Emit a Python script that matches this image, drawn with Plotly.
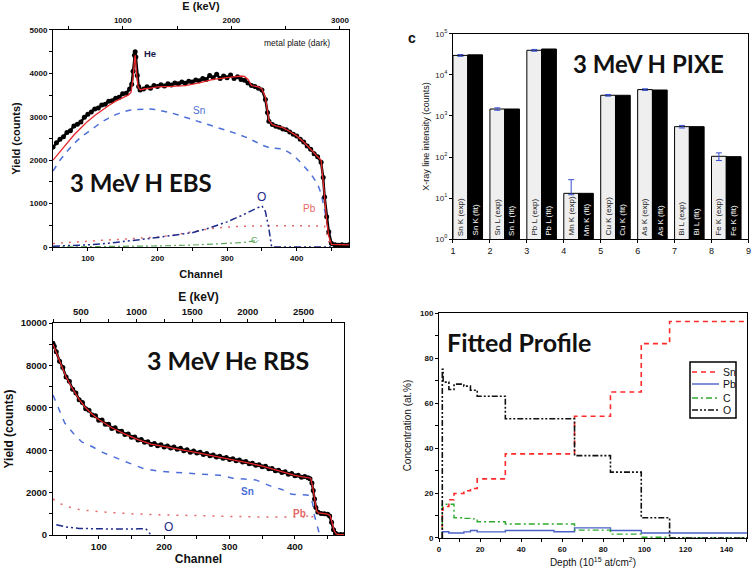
import plotly.graph_objects as go

# ---------------- Panel: 3 MeV H EBS ----------------
ebs_channel = [50, 55, 60, 65, 70, 75, 80, 85, 90, 95, 100, 105, 110, 115, 120, 125, 130, 135, 140, 145,
               150, 155, 160, 163, 165, 167, 168, 169, 171, 173, 175, 180, 185, 190, 195, 200, 205, 210,
               215, 220, 225, 230, 235, 240, 245, 250, 255, 260, 265, 270, 275, 280, 285, 290, 295, 300,
               305, 310, 315, 320, 325, 330, 335, 340, 345, 350, 355, 358, 360, 365, 370, 375, 380, 385,
               390, 395, 400, 405, 410, 415, 420, 425, 430, 435, 438, 440, 443, 446, 450, 455, 460, 465,
               470, 475]
ebs_counts = [2300, 2400, 2480, 2540, 2640, 2680, 2790, 2830, 2880, 2990, 3060, 3110, 3180, 3200, 3270,
              3290, 3360, 3370, 3430, 3450, 3530, 3540, 3640, 3750, 4050, 4420, 4500, 4380, 3950, 3700,
              3620, 3640, 3690, 3660, 3720, 3700, 3740, 3710, 3760, 3730, 3780, 3760, 3800, 3770, 3820,
              3800, 3850, 3830, 3880, 3860, 3950, 3900, 3980, 3880, 3940, 3900, 3960, 3880, 3920, 3860,
              3840, 3780, 3720, 3700, 3660, 3620, 3400, 3100, 2900, 2820, 2780, 2760, 2720, 2700, 2650,
              2600, 2560, 2480, 2420, 2330, 2250, 2150, 2080, 1950, 1600, 1150, 700, 350, 80, 50, 40, 50,
              40, 50]
ebs_fit_channel = [50, 60, 70, 80, 90, 100, 110, 120, 130, 140, 150, 158, 162, 165, 167, 168, 170, 172, 175,
                   180, 190, 200, 220, 240, 260, 280, 300, 310, 320, 325, 330, 335, 340, 345, 350, 355, 360,
                   365, 370, 380, 390, 400, 410, 420, 430, 435, 438, 440, 443, 446, 450, 475]
ebs_fit = [2000, 2200, 2400, 2580, 2740, 2900, 3030, 3150, 3260, 3360, 3440, 3500, 3560, 3900, 4300, 4420,
           4000, 3700, 3620, 3640, 3660, 3690, 3700, 3720, 3780, 3860, 3900, 3920, 3940, 3930, 3860, 3720,
           3700, 3690, 3640, 3450, 2920, 2820, 2790, 2750, 2660, 2560, 2420, 2260, 2080, 2000, 1500, 1100,
           600, 250, 60, 50]
ebs_sn_channel = [50, 60, 70, 80, 90, 100, 110, 120, 130, 140, 150, 160, 170, 180, 190, 200, 210, 220, 230,
                  240, 250, 260, 270, 280, 290, 300, 310, 320, 330, 340, 350, 360, 370, 380, 390, 400, 410,
                  420, 430, 435, 440, 443, 446, 450, 455]
ebs_sn = [1750, 2000, 2200, 2380, 2530, 2650, 2780, 2880, 2970, 3050, 3110, 3150, 3170, 3180, 3180, 3160,
          3130, 3090, 3040, 2990, 2940, 2890, 2840, 2790, 2740, 2690, 2630, 2570, 2510, 2430, 2350, 2290,
          2270, 2260, 2170, 2040, 1870, 1690, 1450, 1230, 850, 600, 300, 50, 0]
ebs_pb_channel = [50, 75, 100, 125, 150, 175, 200, 225, 250, 262, 275, 300, 325, 350, 375, 400, 425, 440, 445, 448]
ebs_pb = [80, 110, 140, 160, 180, 200, 230, 280, 340, 385, 420, 460, 480, 490, 490, 490, 490, 480, 200, 0]
ebs_o_channel = [50, 75, 100, 125, 150, 175, 200, 225, 250, 275, 300, 320, 340, 350, 355, 360, 364, 475]
ebs_o = [20, 30, 50, 80, 120, 170, 220, 270, 330, 440, 580, 720, 870, 950, 820, 420, 0, 0]
ebs_c_channel = [50, 100, 150, 200, 250, 300, 320, 335, 345]
ebs_c = [0, 5, 10, 25, 45, 75, 100, 130, 150]
ebs_energy_range = [357, 3083]   # keV at channels 50 and 475

# ---------------- Panel: 3 MeV H PIXE ----------------
pixe_pos = [1, 2, 3, 4, 5, 6, 7, 8]
pixe_lines = ["Sn K", "Sn L", "Pb L", "Mn K", "Cu K", "As K", "Bi L", "Fe K"]
pixe_exp = [30000, 1480, 40000, 13, 3200, 4400, 550, 104]
pixe_exp_err_plus = [1500, 100, 2000, 15, 150, 200, 40, 22]
pixe_exp_err_minus = [1500, 100, 2000, 1, 150, 200, 40, 22]
pixe_fit = [31000, 1480, 43000, 13, 3200, 4300, 550, 102]

# ---------------- Panel: 3 MeV He RBS ----------------
rbs_channel = [30, 32, 35, 40, 45, 50, 55, 60, 65, 70, 75, 80, 85, 90, 95, 100, 105, 110, 115, 120, 125,
               130, 135, 140, 145, 150, 155, 160, 165, 170, 175, 180, 185, 190, 195, 200, 205, 210, 215,
               220, 225, 230, 235, 240, 245, 250, 255, 260, 265, 270, 275, 280, 285, 290, 295, 300, 305,
               310, 315, 320, 325, 330, 335, 340, 345, 350, 355, 360, 365, 370, 375, 380, 385, 390, 395,
               400, 405, 410, 415, 420, 423, 426, 428, 430, 432, 435, 440, 445, 450, 453, 456, 459, 462,
               465, 470, 475]
rbs_counts = [9050, 8900, 8650, 8200, 7900, 7450, 7250, 6880, 6700, 6380, 6250, 5960, 5880, 5660, 5620,
              5410, 5420, 5220, 5230, 5030, 5060, 4890, 4900, 4740, 4770, 4610, 4620, 4480, 4510, 4380,
              4400, 4270, 4320, 4210, 4260, 4150, 4200, 4100, 4150, 4040, 4090, 3970, 4020, 3910, 3960,
              3870, 3900, 3800, 3840, 3740, 3780, 3680, 3720, 3620, 3660, 3560, 3600, 3500, 3540, 3440,
              3470, 3360, 3390, 3290, 3320, 3220, 3240, 3120, 3140, 3030, 3060, 2950, 2980, 2870, 2900,
              2790, 2820, 2730, 2760, 2700, 2650, 2450, 2100, 1700, 1300, 1080, 1020, 1000, 980, 900,
              600, 250, 80, 30, 20, 20]
rbs_fit_channel = [30, 35, 40, 50, 60, 70, 80, 90, 100, 120, 140, 160, 180, 200, 220, 250, 280, 300, 330,
                   350, 370, 390, 400, 410, 420, 424, 427, 430, 433, 436, 440, 450, 454, 457, 460, 463, 466, 475]
rbs_fit = [9000, 8600, 8200, 7450, 6900, 6400, 6000, 5700, 5450, 5060, 4760, 4500, 4290, 4180, 4080, 3890,
           3700, 3590, 3390, 3250, 3060, 2900, 2810, 2750, 2720, 2680, 2300, 1600, 1150, 1040, 1020, 990,
           900, 550, 200, 60, 20, 20]
rbs_sn_channel = [30, 38, 48, 61, 74, 91, 106, 132, 150, 167, 189, 213, 251, 285, 305, 340, 352, 365, 380,
                  395, 422, 427, 430, 433, 437, 440]
rbs_sn = [6600, 6000, 5280, 4800, 4390, 4150, 3900, 3570, 3350, 3150, 3020, 2960, 2880, 2820, 2680, 2600,
          2450, 2280, 2150, 1920, 1880, 1500, 900, 500, 100, 0]
rbs_pb_channel = [30, 40, 50, 70, 100, 150, 200, 250, 300, 350, 400, 425, 440, 455, 460, 463]
rbs_pb = [1700, 1500, 1350, 1200, 1100, 1000, 950, 930, 880, 850, 830, 850, 950, 950, 300, 0]
rbs_o_channel = [35, 50, 70, 100, 130, 160, 172, 176, 180]
rbs_o = [480, 380, 310, 290, 280, 290, 300, 150, 0]
rbs_energy_range = [249, 2864]   # keV at channels 30 and 475

# ---------------- Panel: Fitted Profile ----------------
depth_edges = [1.6, 2.0, 4.8, 7.3, 12.1, 15.3, 18.6, 32.3, 56, 66, 83.5, 98.5, 112.3, 150]
prof_names = ["Sn", "Pb", "C", "O"]
prof_sn = [12.5, 14, 17, 19.8, 21, 22, 26.3, 37.4, 37.4, 54.1, 64.9, 86.4, 96.2]
prof_pb = [2.8, 2.8, 2.2, 2.2, 2.7, 3.3, 2.7, 3.3, 2.8, 4.5, 3.3, 2.2, 2.2]
prof_c = [15, 15, 15, 9, 8.7, 8.5, 7.2, 6.2, 6.2, 3.5, 1.7, 0.3, 0]
prof_o = [75, 69.3, 66, 68.4, 67.5, 65.7, 63, 53, 53, 36.6, 29.3, 9, 0]

# ---------------- colours / fonts ----------------
BLK = "#000000"
RED = "#e8262b"
SNBLUE = "#4d6fd8"
NAVY = "#1c2a8c"
PBRED = "#e56767"
CGREEN = "#5aa55a"
AX_FONT = "Liberation Sans, Arial, sans-serif"
BIG_FONT = "Lato, Open Sans, sans-serif"
W, H = 756, 571

fig = go.Figure()

# ---- EBS traces (x, y) ----
fig.add_trace(go.Scatter(x=ebs_c_channel, y=ebs_c, mode="lines", xaxis="x", yaxis="y",
                         line=dict(color=CGREEN, width=1.2, dash="6px,3px,2px,3px"), showlegend=False))
fig.add_trace(go.Scatter(x=ebs_pb_channel, y=ebs_pb, mode="lines", xaxis="x", yaxis="y",
                         line=dict(color=PBRED, width=1.5, dash="2px,6px"), showlegend=False))
fig.add_trace(go.Scatter(x=ebs_o_channel, y=ebs_o, mode="lines", xaxis="x", yaxis="y",
                         line=dict(color=NAVY, width=1.5, dash="7px,3px,2px,3px,2px,3px"), showlegend=False))
fig.add_trace(go.Scatter(x=ebs_sn_channel, y=ebs_sn, mode="lines", xaxis="x", yaxis="y",
                         line=dict(color=SNBLUE, width=1.5, dash="6px,6px"), showlegend=False))
fig.add_trace(go.Scatter(x=ebs_channel, y=ebs_counts, mode="lines+markers", xaxis="x", yaxis="y",
                         line=dict(color=BLK, width=2.5), marker=dict(color=BLK, size=5), showlegend=False))
fig.add_trace(go.Scatter(x=ebs_fit_channel, y=ebs_fit, mode="lines", xaxis="x", yaxis="y",
                         line=dict(color=RED, width=1.3), showlegend=False))
fig.add_trace(go.Scatter(x=ebs_energy_range, y=[0, 0], mode="markers", xaxis="x5", yaxis="y",
                         marker=dict(opacity=0, size=1), showlegend=False, hoverinfo="skip"))

# ---- PIXE bars (x2, y2) ----
fig.add_trace(go.Bar(x=pixe_pos, y=pixe_exp, width=0.4, offset=0, xaxis="x2", yaxis="y2",
                     marker=dict(color="#efefef", line=dict(color=BLK, width=1)),
                     error_y=dict(type="data", array=pixe_exp_err_plus, arrayminus=pixe_exp_err_minus,
                                  color="#3a4fd0", thickness=1, width=3),
                     showlegend=False))
fig.add_trace(go.Bar(x=pixe_pos, y=pixe_fit, width=0.4, offset=0.4, xaxis="x2", yaxis="y2",
                     marker=dict(color=BLK, line=dict(color=BLK, width=1)), showlegend=False))

# ---- RBS traces (x3, y3) ----
fig.add_trace(go.Scatter(x=rbs_pb_channel, y=rbs_pb, mode="lines", xaxis="x3", yaxis="y3",
                         line=dict(color=PBRED, width=1.5, dash="2px,7px"), showlegend=False))
fig.add_trace(go.Scatter(x=rbs_o_channel, y=rbs_o, mode="lines", xaxis="x3", yaxis="y3",
                         line=dict(color=NAVY, width=1.5, dash="7px,3px,2px,3px,2px,3px"), showlegend=False))
fig.add_trace(go.Scatter(x=rbs_sn_channel, y=rbs_sn, mode="lines", xaxis="x3", yaxis="y3",
                         line=dict(color=SNBLUE, width=1.5, dash="6px,7px"), showlegend=False))
fig.add_trace(go.Scatter(x=rbs_channel, y=rbs_counts, mode="lines+markers", xaxis="x3", yaxis="y3",
                         line=dict(color=BLK, width=2.5), marker=dict(color=BLK, size=5), showlegend=False))
fig.add_trace(go.Scatter(x=rbs_fit_channel, y=rbs_fit, mode="lines", xaxis="x3", yaxis="y3",
                         line=dict(color=RED, width=1.3), showlegend=False))
fig.add_trace(go.Scatter(x=rbs_energy_range, y=[0, 0], mode="markers", xaxis="x6", yaxis="y3",
                         marker=dict(opacity=0, size=1), showlegend=False, hoverinfo="skip"))

# ---- Profile (x4, y4) ----
def step_xy(vals):
    xs = [depth_edges[0]] + depth_edges
    ys = [0] + vals + [vals[-1]]
    return xs, ys

prof_styles = [("#ff2a2a", "5px,4px", 1.6), ("#4a62c8", "solid", 1.4),
               ("#2eaa2e", "6px,3px,2px,3px", 1.4), ("#111111", "6px,2px,2px,2px,2px,2px", 1.6)]
for name, vals, (col, dash, w) in zip(prof_names, [prof_sn, prof_pb, prof_c, prof_o], prof_styles):
    xs, ys = step_xy(vals)
    fig.add_trace(go.Scatter(x=xs, y=ys, mode="lines", line_shape="hv", name=name, showlegend=False,
                             xaxis="x4", yaxis="y4", line=dict(color=col, dash=dash, width=w)))

# ---------------- layout ----------------
def ax(**kw):
    base = dict(showline=True, linecolor=BLK, linewidth=1, mirror=True, ticks="outside",
                ticklen=3, tickcolor=BLK, showgrid=False, zeroline=False, automargin=False,
                tickfont=dict(family=AX_FONT, size=8, color="#111"))
    base.update(kw)
    return base

tf = lambda s, size=11, bold=True: dict(text=("<b>%s</b>" % s) if bold else s,
                                        font=dict(family=AX_FONT, size=size, color="#111"))

fig.update_layout(
    width=W, height=H, margin=dict(l=0, r=0, t=0, b=0),
    paper_bgcolor="white", plot_bgcolor="white", barmode="overlay", showlegend=False,
    xaxis=ax(domain=[0.0701, 0.4616], anchor="y", range=[50, 475], dtick=100, tick0=0,
             minor=dict(dtick=50, ticks="outside", ticklen=3, tickcolor=BLK),
             title=dict(tf("Channel", 11), standoff=8),
             tickfont=dict(family=AX_FONT, size=8, color="#111"), tickprefix="<b>", ticksuffix="</b>"),
    yaxis=ax(domain=[0.5674, 0.9475], anchor="x", range=[0, 5000], dtick=1000, tickformat="d",
             minor=dict(dtick=500, ticks="outside", ticklen=3, tickcolor=BLK),
             title=dict(tf("Yield (counts)", 11), standoff=6), tickprefix="<b>", ticksuffix="</b>"),
    xaxis5=ax(overlaying="x", anchor="y", side="top", range=ebs_energy_range, dtick=1000, tick0=0,
              tickformat="d",
              minor=dict(dtick=500, ticks="outside", ticklen=3, tickcolor=BLK),
              title=dict(tf("E (keV)", 11), standoff=2), tickprefix="<b>", ticksuffix="</b>"),
    xaxis2=ax(domain=[0.5992, 0.990], anchor="y2", range=[1, 9], dtick=1, tick0=1,
              tickfont=dict(family=AX_FONT, size=9, color="#111")),
    yaxis2=ax(domain=[0.5814, 0.9405], anchor="x2", type="log", range=[0, 5],
              tickvals=[1, 10, 100, 1000, 10000, 100000],
              ticktext=["10<sup>0</sup>", "10<sup>1</sup>", "10<sup>2</sup>", "10<sup>3</sup>",
                        "10<sup>4</sup>", "10<sup>5</sup>"],
              tickfont=dict(family=AX_FONT, size=8, color="#222"),
              title=dict(tf("X-ray line intensity (counts)", 9, bold=False), standoff=4)),
    xaxis3=ax(domain=[0.0701, 0.4550], anchor="y3", range=[30, 475], dtick=100, tick0=0,
              minor=dict(dtick=50, ticks="outside", ticklen=3, tickcolor=BLK),
              title=dict(tf("Channel", 12), standoff=2),
              tickfont=dict(family=AX_FONT, size=9.5, color="#111"), tickprefix="<b>", ticksuffix="</b>"),
    yaxis3=ax(domain=[0.0630, 0.4343], anchor="x3", range=[0, 10000], dtick=2000, tickformat="d",
              minor=dict(dtick=1000, ticks="outside", ticklen=3, tickcolor=BLK),
              title=dict(tf("Yield (counts)", 12), standoff=4),
              tickfont=dict(family=AX_FONT, size=9.5, color="#111"), tickprefix="<b>", ticksuffix="</b>"),
    xaxis6=ax(overlaying="x3", anchor="y3", side="top", range=rbs_energy_range, dtick=500, tick0=0,
              tickformat="d",
              minor=dict(dtick=250, ticks="outside", ticklen=3, tickcolor=BLK),
              title=dict(tf("E (keV)", 12), standoff=2),
              tickfont=dict(family=AX_FONT, size=9.5, color="#111"), tickprefix="<b>", ticksuffix="</b>"),
    xaxis4=ax(domain=[0.5807, 0.9881], anchor="y4", range=[0, 150], dtick=20,
              minor=dict(dtick=10, ticks="outside", ticklen=3, tickcolor=BLK),
              title=dict(tf("Depth (10<sup>15</sup> at/cm<sup>2</sup>)", 10, bold=False), standoff=6),
              tickprefix="<b>", ticksuffix="</b>"),
    yaxis4=ax(domain=[0.0578, 0.4518], anchor="x4", range=[0, 100], dtick=20,
              minor=dict(dtick=10, ticks="outside", ticklen=3, tickcolor=BLK),
              title=dict(tf("Concentration (at.%)", 10, bold=False), standoff=6),
              tickprefix="<b>", ticksuffix="</b>"),
)

ann = []
def A(text, x, y, xref, yref, size=9, color="#111", family=AX_FONT, xanchor="center", yanchor="middle", **kw):
    ann.append(dict(text=text, x=x, y=y, xref=xref, yref=yref, showarrow=False, xanchor=xanchor,
                    yanchor=yanchor, font=dict(family=family, size=size, color=color), **kw))

# EBS labels
A("<b>He</b>", 178, 4460, "x", "y", size=9.5, color="#1a1a4a", xanchor="left")
A("Sn", 260, 3150, "x", "y", size=10, color=SNBLUE)
A("O", 350, 1150, "x", "y", size=12, color=NAVY)
A("Pb", 419, 885, "x", "y", size=10, color=PBRED)
A("C", 340, 160, "x", "y", size=9, color=CGREEN)
A("metal plate (dark)", 401, 4690, "x", "y", size=8.5, color="#111")
A("<b>3 MeV H EBS</b>", 71, 1475, "x", "y", size=24, family=BIG_FONT, xanchor="left")
# RBS labels
A("<b>Sn</b>", 328, 2050, "x3", "y3", size=10, color=SNBLUE)
A("<b>Pb.</b>", 409, 1030, "x3", "y3", size=10, color=PBRED)
A("O", 207, 380, "x3", "y3", size=12, color=NAVY)
A("<b>3 MeV He RBS</b>", 170, 8250, "x3", "y3", size=25, family=BIG_FONT, xanchor="left")
# PIXE labels
A("<b>3 MeV H PIXE</b>", 4.19, 4.29, "x2", "y2", size=24, family=BIG_FONT, xanchor="left")
A("<b>c</b>", 412 / W, 1 - 38 / H, "paper", "paper", size=14, color="#111")
for p, ln in zip(pixe_pos, pixe_lines):
    A(ln + " (exp)", p + 0.2, 0.03, "x2", "y2", size=8, color="#222", yanchor="bottom", textangle=-90)
    A(ln + " (fit)", p + 0.6, 0.03, "x2", "y2", size=8, color="#fff", yanchor="bottom", textangle=-90)
# Profile
A("<b>Fitted Profile</b>", 2.8, 87, "x4", "y4", size=25, family=BIG_FONT, xanchor="left")

# hand-placed legend box for the profile panel (pixel positions of the reference)
shapes = [dict(type="rect", xref="paper", yref="paper", x0=690 / W, x1=736 / W, y0=1 - 418 / H, y1=1 - 362 / H,
               line=dict(color=BLK, width=1.5), fillcolor="white", layer="above")]
leg_rows = [372, 384, 398, 410]
for name, (col, dash, w), py in zip(prof_names, prof_styles, leg_rows):
    shapes.append(dict(type="line", xref="paper", yref="paper", x0=692 / W, x1=719 / W,
                       y0=1 - py / H, y1=1 - py / H, line=dict(color=col, dash=dash, width=w), layer="above"))
    A(name, 721 / W, 1 - py / H, "paper", "paper", size=10.5, color="#111", xanchor="left")

fig.update_layout(annotations=ann, shapes=shapes)
fig.write_html("out.html", config={"displayModeBar": False},
               post_script="document.body.style.margin='0px';")
